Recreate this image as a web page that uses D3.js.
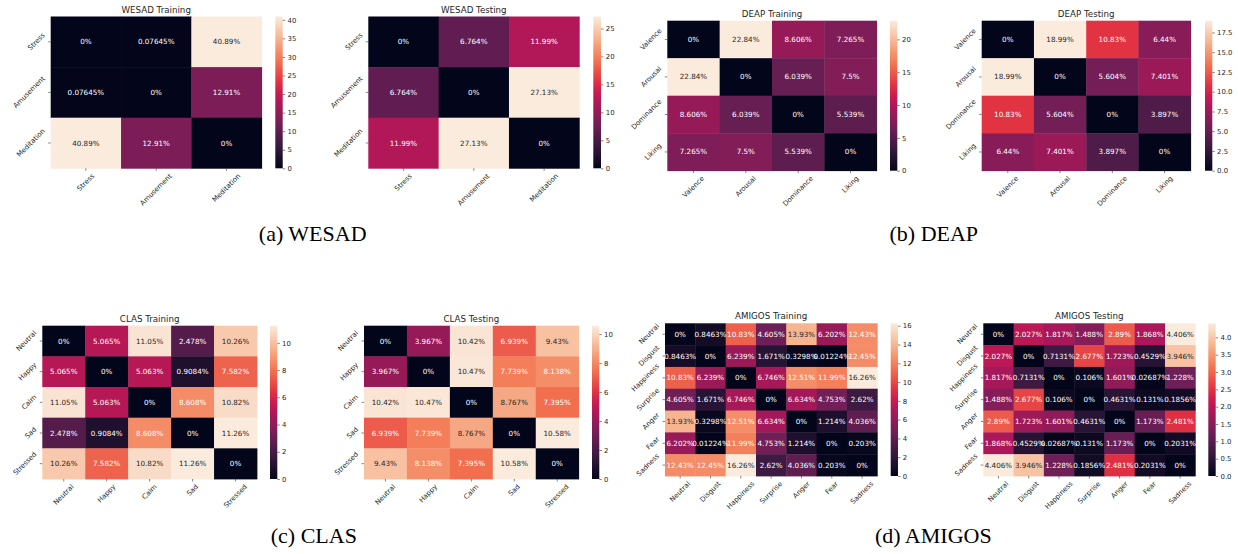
<!DOCTYPE html>
<html><head><meta charset="utf-8">
<script src="https://cdn.jsdelivr.net/npm/d3@7"></script>
<style>
body{margin:0;background:#fff}
svg{display:block;font-family:"DejaVu Sans",sans-serif}
text.cap{font-family:"Liberation Serif","Times New Roman",serif}
</style>
</head><body>
<svg id="c" width="1238" height="554"></svg>
<script>
// ---------------- data ----------------
const wesadLabels = ["Stress","Amusement","Meditation"];
const wesadTrain = [[0,0.07645,40.89],[0.07645,0,12.91],[40.89,12.91,0]];
const wesadTest  = [[0,6.764,11.99],[6.764,0,27.13],[11.99,27.13,0]];
const wesadTrainTicks = [0,5,10,15,20,25,30,35,40];
const wesadTestTicks  = [0,5,10,15,20,25];

const deapLabels = ["Valence","Arousal","Dominance","Liking"];
const deapTrain = [[0,22.84,8.606,7.265],[22.84,0,6.039,7.5],[8.606,6.039,0,5.539],[7.265,7.5,5.539,0]];
const deapTest  = [[0,18.99,10.83,6.44],[18.99,0,5.604,7.401],[10.83,5.604,0,3.897],[6.44,7.401,3.897,0]];
const deapTrainTicks = [0,5,10,15,20];
const deapTestTicks  = [0,2.5,5,7.5,10,12.5,15,17.5];

const clasLabels = ["Neutral","Happy","Calm","Sad","Stressed"];
const clasTrain = [[0,5.065,11.05,2.478,10.26],[5.065,0,5.063,0.9084,7.582],[11.05,5.063,0,8.608,10.82],[2.478,0.9084,8.608,0,11.26],[10.26,7.582,10.82,11.26,0]];
const clasTest  = [[0,3.967,10.42,6.939,9.43],[3.967,0,10.47,7.739,8.138],[10.42,10.47,0,8.767,7.395],[6.939,7.739,8.767,0,10.58],[9.43,8.138,7.395,10.58,0]];
const clasTrainTicks = [0,2,4,6,8,10];
const clasTestTicks  = [0,2,4,6,8,10];

const amigosLabels = ["Neutral","Disgust","Happiness","Surprise","Anger","Fear","Sadness"];
const amigosTrain = [
 [0,0.8463,10.83,4.605,13.93,6.202,12.43],
 [0.8463,0,6.239,1.671,0.3298,0.01224,12.45],
 [10.83,6.239,0,6.746,12.51,11.99,16.26],
 [4.605,1.671,6.746,0,6.634,4.753,2.62],
 [13.93,0.3298,12.51,6.634,0,1.214,4.036],
 [6.202,0.01224,11.99,4.753,1.214,0,0.203],
 [12.43,12.45,16.26,2.62,4.036,0.203,0]];
const amigosTest = [
 [0,2.027,1.817,1.488,2.89,1.868,4.406],
 [2.027,0,0.7131,2.677,1.723,0.4529,3.946],
 [1.817,0.7131,0,0.106,1.601,0.02687,1.228],
 [1.488,2.677,0.106,0,0.4631,0.131,0.1856],
 [2.89,1.723,1.601,0.4631,0,1.173,2.481],
 [1.868,0.4529,0.02687,0.131,1.173,0,0.2031],
 [4.406,3.946,1.228,0.1856,2.481,0.2031,0]];
const amigosTrainTicks = [0,2,4,6,8,10,12,14,16];
const amigosTestTicks  = [0,0.5,1,1.5,2,2.5,3,3.5,4];

const captions = ["(a) WESAD","(b) DEAP","(c) CLAS","(d) AMIGOS"];

// ---------------- colormap (seaborn "rocket") ----------------
const rocketStops  = [0,0.143,0.286,0.429,0.5,0.571,0.714,0.857,1];
const rocketColors = ["#03051a","#35193e","#701f57","#ad1759","#cb1b4f","#e13342","#f37651","#f6b48f","#faebdd"];
const rocket = d3.scaleLinear().domain(rocketStops).range(rocketColors)
  .interpolate(d3.interpolateRgb).clamp(true);

function lum(col){
  const c = d3.rgb(col);
  const f = v => { v/=255; return v<=0.03928? v/12.92 : Math.pow((v+0.055)/1.055,2.4); };
  return 0.2126*f(c.r)+0.7152*f(c.g)+0.0722*f(c.b);
}

// ---------------- layout ----------------
const panels = [
 {title:"WESAD Training", labels:wesadLabels, values:wesadTrain, ticks:wesadTrainTicks, box:[50.7,16.5,261.7,168.3], cb:[275.3,282.7], ty:12.5},
 {title:"WESAD Testing",  labels:wesadLabels, values:wesadTest,  ticks:wesadTestTicks,  box:[368.3,16.5,579.3,168.3], cb:[593.3,601], ty:12.5},
 {title:"DEAP Training",  labels:deapLabels,  values:deapTrain,  ticks:deapTrainTicks,  box:[667.3,20.7,876.7,170.7], cb:[890,897.3], ty:16.5},
 {title:"DEAP Testing",   labels:deapLabels,  values:deapTest,   ticks:deapTestTicks,   box:[981.7,20.7,1190.7,170.7], cb:[1205,1212.3], ty:16.5},
 {title:"CLAS Training",  labels:clasLabels,  values:clasTrain,  ticks:clasTrainTicks,  box:[42.3,325.7,257,479], cb:[270,277.3], ty:321.5},
 {title:"CLAS Testing",   labels:clasLabels,  values:clasTest,   ticks:clasTestTicks,   box:[364,325.7,578.7,479], cb:[592,599.3], ty:321.5},
 {title:"AMIGOS Training",labels:amigosLabels,values:amigosTrain,ticks:amigosTrainTicks,box:[665,323.3,877.3,476], cb:[890.7,898], ty:319},
 {title:"AMIGOS Testing", labels:amigosLabels,values:amigosTest, ticks:amigosTestTicks, box:[983.3,323.3,1195.3,476], cb:[1208.3,1215.7], ty:319}
];
const captionPos = [[312.7,241],[933.8,241],[313.8,543],[933.3,543]];

const svg = d3.select("#c");
const defs = svg.append("defs");
const annFmt = d3.format(".4~g");
const TICK = 2.5, PAD = 2.3, FS_TICK = 6.9, FS_ANN = 7.2, FS_TITLE = 8.7;
const textCol = "#262626";

panels.forEach((p, pi) => {
  const [x0,y0,x1,y1] = p.box;
  const g = svg.append("g");
  const x = d3.scaleBand().domain(p.labels).range([x0,x1]);
  const y = d3.scaleBand().domain(p.labels).range([y0,y1]);
  const vmax = d3.max(p.values.flat());
  const norm = d3.scaleLinear().domain([0,vmax]).range([0,1]);
  const color = v => rocket(norm(v));

  const cells = [];
  p.values.forEach((row,i)=>row.forEach((v,j)=>cells.push({r:p.labels[i], c:p.labels[j], v})));

  g.selectAll("rect.cell").data(cells).enter().append("rect")
    .attr("x", d=>x(d.c)).attr("y", d=>y(d.r))
    .attr("width", x.bandwidth()+0.4).attr("height", y.bandwidth()+0.4)
    .attr("fill", d=>color(d.v));

  g.selectAll("text.ann").data(cells).enter().append("text")
    .attr("x", d=>x(d.c)+x.bandwidth()/2).attr("y", d=>y(d.r)+y.bandwidth()/2)
    .attr("text-anchor","middle").attr("dominant-baseline","central")
    .attr("font-size",FS_ANN)
    .attr("fill", d=> lum(color(d.v))>0.408 ? textCol : "#ffffff")
    .text(d=>annFmt(d.v)+"%");

  // y ticks
  p.labels.forEach(l=>{
    const cy = y(l)+y.bandwidth()/2;
    g.append("line").attr("x1",x0-TICK).attr("x2",x0).attr("y1",cy).attr("y2",cy)
      .attr("stroke","#333").attr("stroke-width",0.6);
    const t = g.append("text").attr("font-size",FS_TICK).attr("fill",textCol)
      .attr("text-anchor","middle").attr("dominant-baseline","central").text(l);
    const L = t.node().getComputedTextLength();
    const w = (L + FS_TICK*0.8)*0.7071;
    const cx = x0 - TICK - PAD - w/2;
    t.attr("x",cx).attr("y",cy).attr("transform",`rotate(-45,${cx},${cy})`);
  });
  // x ticks
  p.labels.forEach(l=>{
    const cx = x(l)+x.bandwidth()/2;
    g.append("line").attr("x1",cx).attr("x2",cx).attr("y1",y1).attr("y2",y1+TICK)
      .attr("stroke","#333").attr("stroke-width",0.6);
    const t = g.append("text").attr("font-size",FS_TICK).attr("fill",textCol)
      .attr("text-anchor","middle").attr("dominant-baseline","central").text(l);
    const L = t.node().getComputedTextLength();
    const h = (L + FS_TICK*0.8)*0.7071;
    const cy = y1 + TICK + PAD + h/2;
    t.attr("x",cx).attr("y",cy).attr("transform",`rotate(-45,${cx},${cy})`);
  });

  // title
  g.append("text").attr("x",(x0+x1)/2).attr("y",p.ty)
    .attr("text-anchor","middle").attr("font-size",FS_TITLE).attr("fill",textCol).text(p.title);

  // colorbar
  const gid = "grad"+pi;
  const grad = defs.append("linearGradient").attr("id",gid)
    .attr("x1",0).attr("y1",1).attr("x2",0).attr("y2",0);
  d3.range(0,1.0001,0.02).forEach(t=>{
    grad.append("stop").attr("offset",t).attr("stop-color",rocket(t));
  });
  const [cx0,cx1] = p.cb;
  g.append("rect").attr("x",cx0).attr("y",y0).attr("width",cx1-cx0).attr("height",y1-y0)
    .attr("fill",`url(#${gid})`);
  const cs = d3.scaleLinear().domain([0,vmax]).range([y1,y0]);
  const dec = p.ticks.some(t=>!Number.isInteger(t));
  const tf = dec ? d3.format(".1f") : d3.format("d");
  const ax = d3.axisRight(cs).tickValues(p.ticks).tickFormat(tf).tickSize(TICK).tickPadding(PAD);
  const ag = g.append("g").attr("transform",`translate(${cx1},0)`).call(ax);
  ag.select(".domain").remove();
  ag.selectAll("line").attr("stroke","#333").attr("stroke-width",0.6);
  ag.selectAll("text").attr("font-size",FS_TICK).attr("fill",textCol)
    .attr("font-family","DejaVu Sans, sans-serif");
});

// captions
captions.forEach((c,i)=>{
  svg.append("text").attr("class","cap").attr("x",captionPos[i][0]).attr("y",captionPos[i][1])
    .attr("text-anchor","middle")
    .style("font-family","'Liberation Serif', 'Times New Roman', serif")
    .style("font-size","22px").attr("fill","#000").text(c);
});
</script>
</body></html>
